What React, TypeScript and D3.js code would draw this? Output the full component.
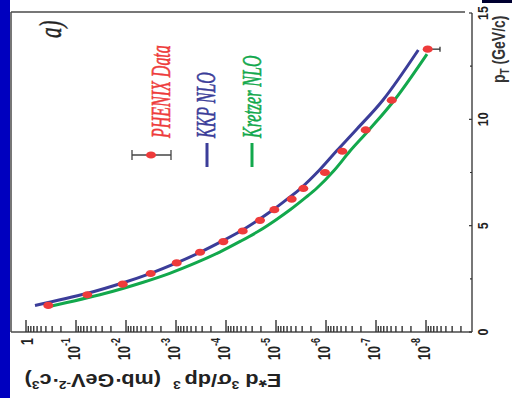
import React from "react";
import * as d3 from "d3";

// ---- data ----
const pTData = [1.25, 1.75, 2.25, 2.75, 3.25, 3.75, 4.25, 4.75, 5.25, 5.75, 6.25, 6.75, 7.5, 8.5, 9.5, 10.9, 13.3];
const phenixData = [0.358, 0.0594, 0.01164, 0.00321, 9.68e-4, 3.31e-4, 1.13e-4, 4.63e-5, 2.09e-5, 1.08e-5, 4.85e-6, 2.84e-6, 1.05e-6, 4.72e-7, 1.61e-7, 4.85e-8, 9.25e-9];
const phenixErrLow = [0, 0, 0, 0, 0, 0, 0, 0, 0, 0, 0, 0, 0, 0, 0, 0, 4.0e-9];

const pTKKP = [1.25, 1.81, 2.33, 2.76, 3.26, 3.76, 4.27, 4.76, 5.27, 5.77, 6.27, 6.77, 7.62, 8.51, 9.5, 10.91, 13.26];
const kkpNLO = [0.661, 0.0614, 0.01096, 3.21e-3, 9.46e-4, 3.21e-4, 1.197e-4, 4.97e-5, 2.26e-5, 1.107e-5, 5.81e-6, 3.16e-6, 1.349e-6, 6.17e-7, 2.51e-7, 7.24e-8, 1.426e-8];

const pTKretzer = [1.175, 1.81, 2.33, 2.76, 3.26, 3.76, 4.27, 4.76, 5.27, 5.77, 6.27, 6.77, 7.62, 8.51, 9.5, 10.91, 13.07];
const kretzerNLO = [0.38, 0.0268, 4.68e-3, 1.337e-3, 3.94e-4, 1.337e-4, 5.11e-5, 2.17e-5, 1.009e-5, 5.06e-6, 2.72e-6, 1.514e-6, 6.76e-7, 3.31e-7, 1.38e-7, 4.27e-8, 9.55e-9];

const pTTicks = [0, 5, 10, 15];
const pTMinorTicks = [2.5, 7.5, 12.5];
const decadeExponents = [0, -1, -2, -3, -4, -5, -6, -7, -8];

const legendLabels = ["PHENIX Data", "KKP NLO", "Kretzer NLO"];
const colors = { data: "#ee3b3b", kkp: "#3b3d99", kretzer: "#12a84c", axis: "#4a4a4a", text: "#222" };

// ---- layout ----
const W = 512, H = 405;
const plot = { left: 11, top: 12, right: 465, bottom: 332, axisX: 472 };

const xS = d3.scaleLog().domain([Math.pow(10, 0.3), Math.pow(10, -8.78)]).range([plot.left, plot.right]);
const yS = d3.scaleLinear().domain([0, 15]).range([plot.bottom, 13]);

const lineGen = d3
  .line<[number, number]>()
  .x((d) => xS(d[1]))
  .y((d) => yS(d[0]))
  .curve(d3.curveCatmullRom.alpha(0.5));

const kkpPath = lineGen(pTKKP.map((p, i) => [p, kkpNLO[i]] as [number, number])) || "";
const kretzerPath = lineGen(pTKretzer.map((p, i) => [p, kretzerNLO[i]] as [number, number])) || "";

const allTicks = xS.ticks(100).filter((v) => v <= xS.domain()[0] && v >= xS.domain()[1]);
const isMajor = (v: number) => Math.abs(Math.log10(v) - Math.round(Math.log10(v))) < 1e-6;

const sansFont = "Liberation Sans, Arial, sans-serif";
const serifFont = "Liberation Serif, Times New Roman, serif";

export default function App() {
  return (
    <svg width={W} height={H} style={{ position: "absolute", left: 0, top: 0, background: "#fff" }}>
      <rect x={0} y={0} width={W} height={H} fill="#fff" />
      {/* slide decorations */}
      <rect x={0} y={0} width={10} height={398} fill="#0000bf" />
      <rect x={482} y={0} width={30} height={3} fill="#000030" />

      {/* frame */}
      <g stroke={colors.axis} strokeWidth={1.5} fill="none">
        <line x1={plot.left} y1={plot.top} x2={plot.right} y2={plot.top} />
        <line x1={plot.left} y1={plot.top} x2={plot.left} y2={plot.bottom} />
        <line x1={plot.left} y1={plot.bottom} x2={plot.axisX} y2={plot.bottom} />
        <line x1={plot.axisX} y1={13} x2={plot.axisX} y2={plot.bottom} />
      </g>

      {/* log axis ticks (bottom) */}
      <g stroke="#333" strokeWidth={1.4}>
        {allTicks.map((v, i) => {
          const x = xS(v);
          const len = isMajor(v) ? 12 : 6;
          return <line key={i} x1={x} x2={x} y1={plot.bottom} y2={plot.bottom - len} />;
        })}
      </g>

      {/* log axis labels */}
      {decadeExponents.map((e) => {
        const x = xS(Math.pow(10, e));
        if (e === 0) {
          return (
            <text key={e} transform={`translate(${x + 7},338) scale(1.35,1) rotate(-90)`} textAnchor="end"
              fontFamily={sansFont} fontWeight="bold" fontSize={12.5} fill={colors.text}>1</text>
          );
        }
        return (
          <text key={e} transform={`translate(${x + 4},338) scale(1.35,1) rotate(-90)`} textAnchor="end"
            fontFamily={sansFont} fontWeight="bold" fontSize={12.5} fill={colors.text}>
            10<tspan dy={-7.5} fontSize={9}>{`-${-e}`}</tspan>
          </text>
        );
      })}

      {/* pT axis ticks and labels */}
      <g stroke="#333" strokeWidth={1.2}>
        {pTTicks.map((t) => (
          <line key={t} x1={plot.axisX} x2={plot.axisX - 3} y1={yS(t)} y2={yS(t)} />
        ))}
        {pTMinorTicks.map((t) => (
          <line key={t} x1={plot.axisX} x2={plot.axisX - 2} y1={yS(t)} y2={yS(t)} />
        ))}
      </g>
      {pTTicks.map((t) => (
        <text key={t} transform={`translate(488,${yS(t)}) scale(1.2,1) rotate(-90)`} textAnchor="middle"
          fontFamily={sansFont} fontWeight="bold" fontSize={12.5} fill={colors.text}>{t}</text>
      ))}
      <text transform={`translate(505,83) scale(1.3,1) rotate(-90)`} textAnchor="start"
        fontFamily={sansFont} fontWeight="bold" fontSize={14} fill="#333">
        p<tspan dy={3} fontSize={10}>T</tspan><tspan dy={-3}> (GeV/c)</tspan>
      </text>

      {/* y-axis title, upside down */}
      <text transform={`translate(153,374) scale(1.2,1) rotate(180)`} textAnchor="middle"
        fontFamily={sansFont} fontWeight="bold" fontSize={18} fill={colors.text}>
        E*d <tspan dy={-7} fontSize={11.5}>3</tspan><tspan dy={7}>σ/dp</tspan>
        <tspan dy={-7} fontSize={11.5}>{"\u00A03"}</tspan>
        <tspan dy={7}>{"\u00A0\u00A0(mb·GeV"}</tspan>
        <tspan dy={-7} fontSize={11.5}>-2</tspan>
        <tspan dy={7}>·c</tspan>
        <tspan dy={-7} fontSize={11.5}>3</tspan>
        <tspan dy={7}>)</tspan>
      </text>

      {/* panel label */}
      <text transform={`translate(61,38) scale(1.5,1) rotate(-90)`} fontFamily={serifFont} fontStyle="italic"
        fontSize={21} fill={colors.text} stroke={colors.text} strokeWidth={0.3}>a)</text>

      {/* curves */}
      <path d={kkpPath} fill="none" stroke={colors.kkp} strokeWidth={3} />
      <path d={kretzerPath} fill="none" stroke={colors.kretzer} strokeWidth={3} />

      {/* data error bars */}
      <g stroke="#333" strokeWidth={1.3}>
        {pTData.map((p, i) =>
          phenixErrLow[i] > 0 ? (
            <g key={i}>
              <line x1={xS(phenixData[i])} x2={xS(phenixData[i] - phenixErrLow[i])} y1={yS(p)} y2={yS(p)} />
              <line x1={xS(phenixData[i] - phenixErrLow[i])} x2={xS(phenixData[i] - phenixErrLow[i])}
                y1={yS(p) - 2.5} y2={yS(p) + 2.5} />
            </g>
          ) : null
        )}
      </g>
      {/* data points */}
      {pTData.map((p, i) => (
        <ellipse key={i} cx={xS(phenixData[i])} cy={yS(p)} rx={5} ry={3.6} fill={colors.data} />
      ))}

      {/* legend */}
      <g>
        <g stroke="#444" strokeWidth={1.3}>
          <line x1={132} x2={171} y1={155} y2={155} />
          <line x1={132} x2={132} y1={150} y2={160} />
          <line x1={171} x2={171} y1={150} y2={160} />
        </g>
        <ellipse cx={151} cy={155} rx={5} ry={3.6} fill={colors.data} />
        <text transform={`translate(170,138) scale(1.65,1) rotate(-90)`} fontFamily={serifFont} fontStyle="italic"
          fontSize={16} fill={colors.data} stroke={colors.data} strokeWidth={0.35}>{legendLabels[0]}</text>

        <line x1={207} x2={207} y1={143} y2={167} stroke={colors.kkp} strokeWidth={3} />
        <text transform={`translate(215,138) scale(1.65,1) rotate(-90)`} fontFamily={serifFont} fontStyle="italic"
          fontSize={16} fill={colors.kkp} stroke={colors.kkp} strokeWidth={0.35}>{legendLabels[1]}</text>

        <line x1={252} x2={252} y1={143} y2={167} stroke={colors.kretzer} strokeWidth={3} />
        <text transform={`translate(261,138) scale(1.65,1) rotate(-90)`} fontFamily={serifFont} fontStyle="italic"
          fontSize={16} fill={colors.kretzer} stroke={colors.kretzer} strokeWidth={0.35}>{legendLabels[2]}</text>
      </g>
    </svg>
  );
}
